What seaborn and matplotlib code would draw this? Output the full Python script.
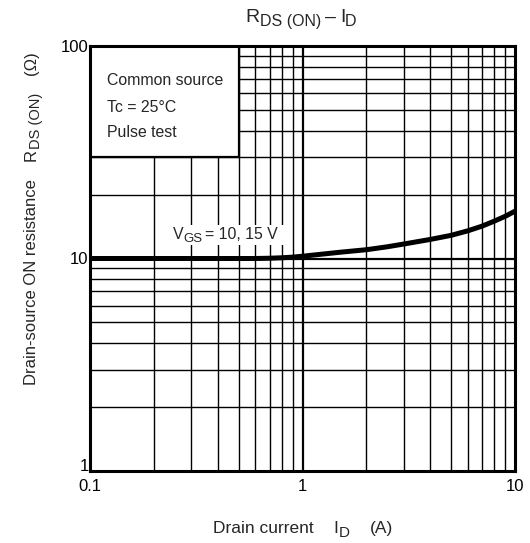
import matplotlib
matplotlib.use("Agg")
import matplotlib.pyplot as plt
import seaborn as sns
import pandas as pd
from matplotlib.patches import Rectangle
from matplotlib.transforms import IdentityTransform
from matplotlib.ticker import FixedLocator, NullFormatter

sns.set_theme(style="white")
plt.rcParams['font.family'] = ['Liberation Sans', 'DejaVu Sans']

# Data
drain_current = [0.1, 0.2, 0.4, 0.6, 0.7, 0.8, 0.9, 1.0, 1.2, 1.5, 2.0, 2.5, 3.0, 4.0, 5.0, 6.0, 7.0, 8.0, 9.0, 10.0]
rds_on = [10.0, 10.0, 10.0, 10.0, 10.03, 10.08, 10.15, 10.25, 10.45, 10.7, 11.0, 11.35, 11.7, 12.3, 12.85, 13.5, 14.2, 15.0, 15.8, 16.7]
x_ticks = [0.1, 1, 10]
x_tick_labels = ["0.1", "1", "10"]
y_ticks = [1, 10, 100]
y_tick_labels = ["1", "10", "100"]
note_lines = ["Common source", "Tc = 25°C", "Pulse test"]

W, H = 530, 543
df = pd.DataFrame({"ID": drain_current, "RDS": rds_on})

fig = plt.figure(figsize=(W / 100, H / 100), dpi=100)
ax = fig.add_axes([90 / W, 72 / H, 425 / W, 425 / H])
ax.set_xscale("log")
ax.set_yscale("log")

# grid
minor = [m * 10.0**e for e in (-1, 0, 1) for m in range(2, 10)]
for v in minor:
    if 0.1 < v < 10:
        ax.axvline(v, color="black", lw=1.0, zorder=1)
    if 1 < v < 100:
        ax.axhline(v, color="black", lw=1.0, zorder=1)
ax.axvline(1, color="black", lw=1.6, zorder=1)
ax.axhline(10, color="black", lw=1.6, zorder=1)

sns.lineplot(data=df, x="ID", y="RDS", ax=ax, color="black", lw=3.6, zorder=3)
ax.set_xlim(0.1, 10)
ax.set_ylim(1, 100)

# note box
ax.add_patch(Rectangle((0.1, 30), 0.5 - 0.1, 100 - 30, facecolor="white",
                       edgecolor="black", lw=1.6, zorder=4))

ax.xaxis.set_major_locator(FixedLocator(x_ticks))
ax.set_xticklabels(x_tick_labels)
ax.yaxis.set_major_locator(FixedLocator(y_ticks))
ax.set_yticklabels(y_tick_labels)
ax.xaxis.set_minor_formatter(NullFormatter())
ax.yaxis.set_minor_formatter(NullFormatter())
ax.tick_params(which="both", length=0, labelsize=12, colors="black")
ax.tick_params(axis="x", pad=6)
ax.tick_params(axis="y", pad=1)
ylbls = ax.get_yticklabels()
ylbls[0].set_verticalalignment("baseline")
ax.set_xlabel("")
ax.set_ylabel("")
for s in ax.spines.values():
    s.set_color("black")
    s.set_linewidth(2.2)
    s.set_zorder(6)

renderer = fig.canvas.get_renderer()


def rich(x0, y0, segs, rotation=0, center=True, zorder=5):
    """segs: (text, fontsize, drop_px, gap_after_px); x0,y0 in image pixels (top-left origin)."""
    yb = H - y0
    widths = []
    for s, fs, drop, gap in segs:
        t = fig.text(0, 0, s, fontsize=fs, transform=IdentityTransform())
        widths.append(t.get_window_extent(renderer).width)
        t.remove()
    total = sum(widths) + sum(g[3] for g in segs[:-1])
    pos = -total / 2 if center else 0
    for (s, fs, drop, gap), w in zip(segs, widths):
        if rotation == 0:
            fig.text(x0 + pos, yb - drop, s, fontsize=fs, ha="left", va="baseline",
                     transform=IdentityTransform(), zorder=zorder)
        else:
            fig.text(x0 + drop, yb + pos, s, fontsize=fs, ha="left", va="baseline",
                     rotation=90, rotation_mode="anchor",
                     transform=IdentityTransform(), zorder=zorder)
        pos += w + gap
    return total


for t, yp in zip(note_lines, [85, 112, 137]):
    rich(107, yp, [(t, 11.4, 0, 0)], center=False)

# curve label with white background
fig.add_artist(Rectangle((170, H - 245), 116, 20, transform=IdentityTransform(),
                         facecolor="white", edgecolor="none", zorder=4))
rich(173, 239, [("V", 11.4, 0, 0), ("GS", 9.5, 3, 2), ("= 10, 15 V", 11.4, 0, 0)], center=False)

# title
rich(301, 22, [("R", 14, 0, 0), ("DS (ON)", 11.5, 4, 4), ("–", 14, 0, 4),
               ("I", 14, 0, 0), ("D", 11.5, 4, 0)])
# x label
rich(303, 533, [("Drain current", 12.5, 0, 20), ("I", 12.5, 0, 0), ("D", 11, 4, 20),
                ("(A)", 12.5, 0, 0)])
# y label
rich(36, 218, [("Drain-source ON resistance", 12, 0, 18), ("R", 12, 0, 0),
               ("DS (ON)", 10.5, 4, 18), ("(Ω)", 12, 0, 0)], rotation=90)

fig.savefig("out.png", dpi=100)
